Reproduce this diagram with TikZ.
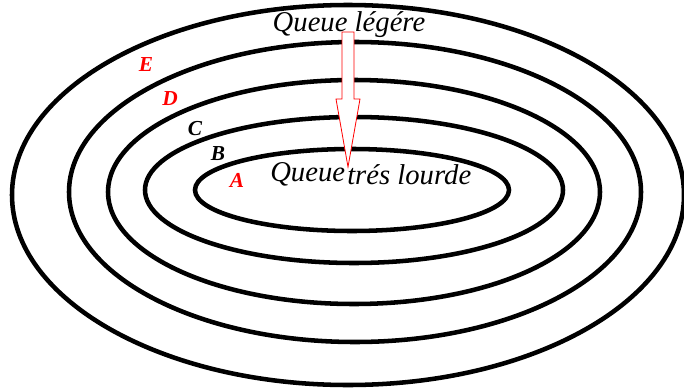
\documentclass[tikz,border=0pt]{standalone}
\usepackage{fontspec}
\setmainfont{Liberation Serif}
\begin{document}
\begin{tikzpicture}[x=0.75pt,y=-0.75pt,
  ring/.style={line width=3.4pt,black},
  lbl/.style={font=\fontsize{21.5}{24}\selectfont\itshape, inner sep=0pt},
  tag/.style={font=\fontsize{16}{18}\selectfont\bfseries\itshape, inner sep=0pt},
  hollow/.style={draw=red, line width=0.6pt, fill=white}]
\useasboundingbox (0,0) rectangle (684,389);
\draw[ring] (348,195) ellipse [x radius=336, y radius=190];
\draw[ring] (355,192) ellipse [x radius=286, y radius=150];
\draw[ring] (354,192) ellipse [x radius=246, y radius=112];
\draw[ring] (354,190) ellipse [x radius=209, y radius=73];
\draw[ring] (352,190) ellipse [x radius=157, y radius=41];
\node[lbl, anchor=base] (legere) at (349,31) {Queue légére};
\coordinate (tip) at (348,167);
\draw[hollow] (342,32) -- (354,32) -- (354,99) -- (360,99) -- (tip) -- (336,99) -- (342,99) -- cycle;
\node[lbl, anchor=base west] (queue) at (270,181) {Queue};
\node[lbl, anchor=base west] (lourde) at (347,184) {trés lourde};
\node[tag, red, anchor=base] (E) at (146,71) {E};
\node[tag, red, anchor=base] (D) at (170,105) {D};
\node[tag, anchor=base] (C) at (195,135) {C};
\node[tag, anchor=base] (B) at (218,160) {B};
\node[tag, red, anchor=base] (A) at (237,187) {A};
\end{tikzpicture}
\end{document}
